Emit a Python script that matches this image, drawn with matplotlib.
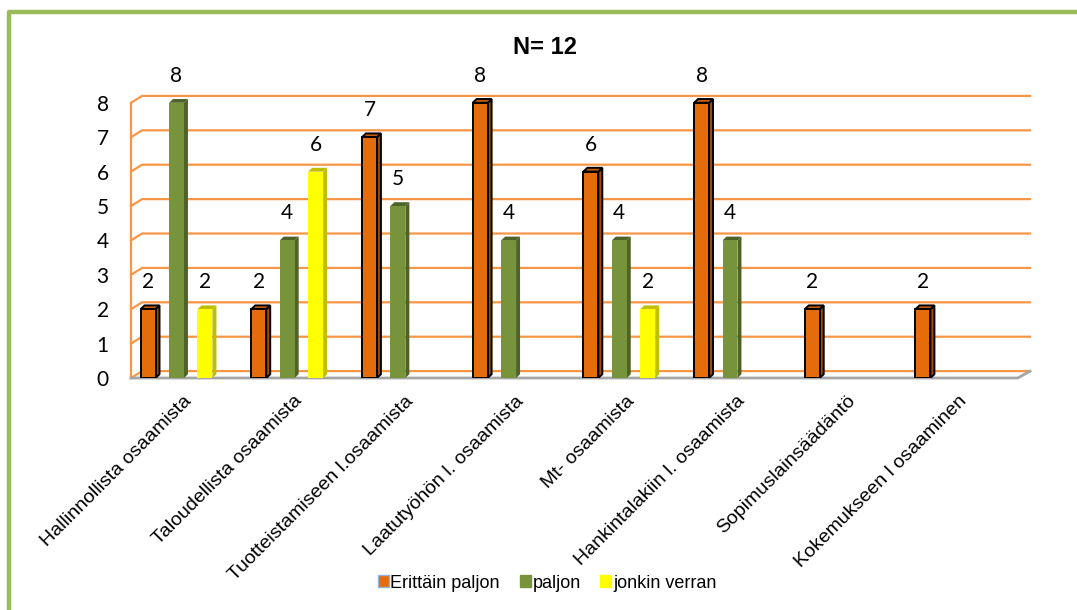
import matplotlib.pyplot as plt
from matplotlib.lines import Line2D
from matplotlib.patches import Patch, Polygon

CATEGORIES = [
    "Hallinnollista osaamista",
    "Taloudellista osaamista",
    "Tuotteistamiseen l.osaamista",
    "Laatutyöhön l. osaamista",
    "Mt- osaamista",
    "Hankintalakiin l. osaamista",
    "Sopimuslainsäädäntö",
    "Kokemukseen l osaaminen",
]
SERIES = ["Erittäin paljon", "paljon", "jonkin verran"]
ERITTAIN = [2, 2, 7, 8, 6, 8, 2, 2]
PALJON = [8, 4, 5, 4, 4, 4, 0, 0]
JONKIN = [2, 6, 0, 0, 2, 0, 0, 0]
YTICKS = list(range(0, 9))
TITLE = "N= 12"

FRONT = ["#E46C0A", "#77933C", "#FFFF00"]
SIDE = ["#A04A05", "#4F6228", "#BFBF00"]
EDGE = ["black", None, None]
GRID = "#F79646"
BORDER = "#9BBB59"

W, H = 1077, 610
X0, X1 = -0.411, 7.71
Y0, Y1 = 0.0, 8.3
WALL_DX, WALL_DY = 0.1, 0.2
BAR_DX, BAR_DY = 0.036, 0.11
BAR_W = 0.135
OFFSETS = [-0.257, 0.0, 0.257]

fig = plt.figure(figsize=(W / 100, H / 100), dpi=100)
ax = fig.add_axes([131 / W, (H - 378) / H, (X1 - X0) * 110.7 / W, (Y1 - Y0) * 34.4 / H])
ax.set_xlim(X0, X1)
ax.set_ylim(Y0, Y1)
for s in ax.spines.values():
    s.set_visible(False)
ax.set_xticks([])
ax.set_yticks(YTICKS)
ax.set_yticklabels([str(t) for t in YTICKS], fontsize=15, family="Lato")
ax.tick_params(axis="y", length=0, pad=16)

# walls and gridlines
for v in YTICKS:
    ax.plot([X0, X0 + WALL_DX, X1], [v, v + WALL_DY, v + WALL_DY],
            color=GRID, lw=1.6, zorder=1, clip_on=False)
ax.plot([X0, X0], [0, YTICKS[-1]], color=GRID, lw=1.6, zorder=1, clip_on=False)
ax.plot([X0, X1 - 0.11, X1], [0, 0, WALL_DY], color="#A6A6A6", lw=2,
        zorder=1.5, clip_on=False)

# bars with 3d faces
for k, values in enumerate([ERITTAIN, PALJON, JONKIN]):
    for i, v in enumerate(values):
        if v == 0:
            continue
        x = i + OFFSETS[k]
        l, r = x - BAR_W / 2, x + BAR_W / 2
        ec = EDGE[k] if EDGE[k] else SIDE[k]
        lw = 1.4 if EDGE[k] else 0.0
        side = Polygon([(r, 0), (r + BAR_DX, BAR_DY), (r + BAR_DX, v + BAR_DY), (r, v)],
                       closed=True, facecolor=SIDE[k], edgecolor=ec, lw=lw, zorder=3)
        top = Polygon([(l, v), (l + BAR_DX, v + BAR_DY), (r + BAR_DX, v + BAR_DY), (r, v)],
                      closed=True, facecolor=SIDE[k] if k else "#C25A06", edgecolor=ec,
                      lw=lw, zorder=3)
        ax.add_patch(side)
        ax.add_patch(top)
        ax.bar(x, v, width=BAR_W, color=FRONT[k], edgecolor=EDGE[k] or FRONT[k],
               linewidth=lw, zorder=4)
        ax.annotate(str(v), (x, v), xytext=(0, 19.5), textcoords="offset points",
                    ha="center", va="center", fontsize=15, family="Lato",
                    annotation_clip=False)

# category labels
for i, cat in enumerate(CATEGORIES):
    ax.text(i + 0.06, -0.42, cat, rotation=45, rotation_mode="anchor",
            ha="right", va="top", fontsize=14, family="Liberation Sans")

fig.text(0.506, (H - 48) / H, TITLE, ha="center", va="center", fontsize=17,
         fontweight="bold", family="Liberation Sans")

handles = [Patch(facecolor=FRONT[0], edgecolor="#8EB4E3", lw=1),
           Patch(facecolor=FRONT[1], edgecolor=FRONT[1]),
           Patch(facecolor=FRONT[2], edgecolor=FRONT[2])]
fig.legend(handles, SERIES, loc="center", bbox_to_anchor=(0.508, (H - 583) / H),
           ncol=3, frameon=False, handlelength=0.6, handleheight=0.6,
           handletextpad=0.1, columnspacing=1.1,
           prop={"family": "Liberation Sans", "size": 13})

# outer border
fig.add_artist(Line2D([9 / W, 9 / W, 1.0], [0, (H - 12) / H, (H - 12) / H],
                      transform=fig.transFigure, color=BORDER, lw=3.2))

fig.savefig("out.png", dpi=100)
